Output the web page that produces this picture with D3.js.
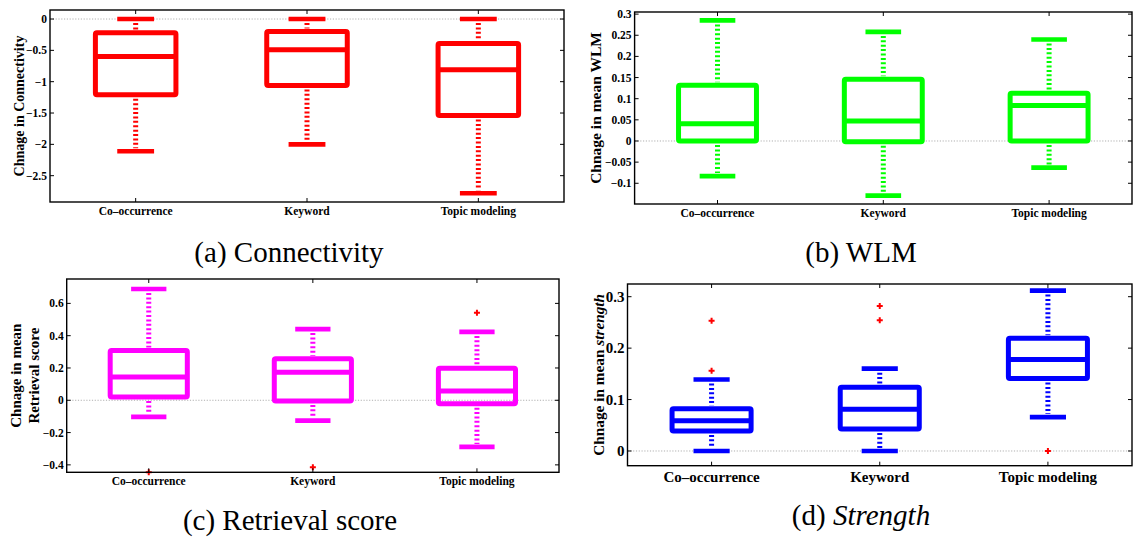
<!DOCTYPE html>
<html><head><meta charset="utf-8">
<script src="https://cdn.jsdelivr.net/npm/d3@7"></script>
<style>
html,body{margin:0;padding:0;background:#fff;}
text{font-family:"Liberation Serif","Times New Roman",serif;}
</style>
</head><body>
<svg id="chart" width="1133" height="538"></svg>
<script>
// ---------- data ----------
const categories = ["Co\u2013occurrence", "Keyword", "Topic modeling"];
// box stats per category: [lower whisker, Q1, median, Q3, upper whisker]
const connectivityStats = [[-2.11, -1.21, -0.60, -0.22, 0], [-2.00, -1.06, -0.49, -0.20, 0], [-2.78, -1.54, -0.81, -0.39, 0]];
const connectivityOutliers = [[], [], []];
const connectivityTicks = [0, -0.5, -1, -1.5, -2, -2.5];

const wlmStats = [[-0.083, 0.0, 0.041, 0.132, 0.285], [-0.129, -0.002, 0.047, 0.146, 0.258], [-0.063, 0.0, 0.084, 0.113, 0.240]];
const wlmOutliers = [[], [], []];
const wlmTicks = [0.3, 0.25, 0.2, 0.15, 0.1, 0.05, 0, -0.05, -0.1];

const retrievalStats = [[-0.103, 0.02, 0.144, 0.309, 0.689], [-0.126, -0.004, 0.173, 0.257, 0.441], [-0.289, -0.021, 0.058, 0.198, 0.423]];
const retrievalOutliers = [[-0.445], [-0.415], [0.542]];
const retrievalTicks = [0.6, 0.4, 0.2, 0, -0.2, -0.4];

const strengthStats = [[0, 0.039, 0.059, 0.082, 0.139], [0, 0.043, 0.081, 0.124, 0.160], [0.066, 0.141, 0.178, 0.219, 0.312]];
const strengthOutliers = [[0.156, 0.253], [0.254, 0.282], [0]];
const strengthTicks = [0, 0.1, 0.2, 0.3];

// ---------- layout ----------
const svg = d3.select("#chart");
svg.append("rect").attr("width", 1133).attr("height", 538).attr("fill", "#fff");

const panels = [
  {x0: 50, x1: 564, y0: 10, y1: 202, dom: [-2.92, 0.144], stats: connectivityStats, out: connectivityOutliers, ticks: connectivityTicks,
   color: "#ff0000", fs: 11.5, xlabY: 215, ylab: [["Chnage in Connectivity"]], ylabX: 19, ylabFs: 14,
   caption: ["(a) Connectivity", ""], capX: 289, capY: 262},
  {x0: 634.6, x1: 1132, y0: 12, y1: 204, dom: [-0.149, 0.305], stats: wlmStats, out: wlmOutliers, ticks: wlmTicks,
   color: "#00ff00", fs: 11.5, xlabY: 217, ylab: [["Chnage in mean WLM"]], ylabX: 596, ylabFs: 15.5,
   caption: ["(b) WLM", ""], capX: 861, capY: 262},
  {x0: 66.7, x1: 559, y0: 279, y1: 472.3, dom: [-0.446, 0.751], stats: retrievalStats, out: retrievalOutliers, ticks: retrievalTicks,
   color: "#ff00ff", fs: 11.5, xlabY: 485, ylab: [["Chnage in mean"], ["Retrieval score"]], ylabX: 25, ylabFs: 15,
   caption: ["(c) Retrieval score", ""], capX: 290, capY: 530},
  {x0: 627.5, x1: 1132, y0: 284, y1: 465.7, dom: [-0.0286, 0.3247], stats: strengthStats, out: strengthOutliers, ticks: strengthTicks,
   color: "#0000ff", fs: 15, xlabY: 482, ylab: [["Chnage in mean ", "strength"]], ylabX: 599, ylabFs: 15.3,
   caption: ["(d) ", "Strength"], capX: 861, capY: 525}
];

panels.forEach(p => {
  const g = svg.append("g");
  const x = d3.scaleBand().domain(categories).range([p.x0, p.x1]).padding(0);
  const y = d3.scaleLinear().domain(p.dom).range([p.y1, p.y0]);
  const bw = x.bandwidth();
  const boxW = bw * 0.47, capW = bw * 0.215;

  // zero reference line
  g.append("line").attr("x1", p.x0).attr("x2", p.x1).attr("y1", y(0)).attr("y2", y(0))
    .attr("stroke", "#b0b0b0").attr("stroke-width", 1).attr("stroke-dasharray", "1.2,1.6");

  categories.forEach((c, i) => {
    const [lo, q1, med, q3, hi] = p.stats[i];
    const cx = x(c) + bw / 2;
    // whiskers
    g.append("line").attr("x1", cx).attr("x2", cx).attr("y1", y(hi) + 4).attr("y2", y(q3) - 3)
      .attr("stroke", p.color).attr("stroke-width", 5).attr("stroke-dasharray", "2,2.4");
    g.append("line").attr("x1", cx).attr("x2", cx).attr("y1", y(q1) + 4).attr("y2", y(lo) - 3)
      .attr("stroke", p.color).attr("stroke-width", 5).attr("stroke-dasharray", "2,2.4");
    // caps
    [lo, hi].forEach(v => g.append("line").attr("x1", cx - capW / 2).attr("x2", cx + capW / 2)
      .attr("y1", y(v)).attr("y2", y(v)).attr("stroke", p.color).attr("stroke-width", 4.7));
    // box
    g.append("rect").attr("x", cx - boxW / 2).attr("width", boxW).attr("y", y(q3)).attr("height", y(q1) - y(q3))
      .attr("fill", "none").attr("stroke", p.color).attr("stroke-width", 5).attr("stroke-linejoin", "round").attr("rx", 1.5);
    g.append("line").attr("x1", cx - boxW / 2).attr("x2", cx + boxW / 2).attr("y1", y(med)).attr("y2", y(med))
      .attr("stroke", p.color).attr("stroke-width", 5);
    // outliers
    p.out[i].forEach(v => g.append("path").attr("d", d3.symbol(d3.symbolCross, 20)())
      .attr("transform", `translate(${cx},${y(v)})`).attr("fill", "#ff0000"));
  });

  // frame
  const axisCol = "#000";
  g.append("rect").attr("x", p.x0).attr("y", p.y0).attr("width", p.x1 - p.x0).attr("height", p.y1 - p.y0)
    .attr("fill", "none").attr("stroke", axisCol).attr("stroke-width", 1.4);
  // y ticks (inward, both sides)
  const fmt = v => (v < 0 ? "\u2212" : "") + d3.format("~g")(Math.abs(v));
  p.ticks.forEach(t => {
    g.append("line").attr("x1", p.x0).attr("x2", p.x0 + 4).attr("y1", y(t)).attr("y2", y(t)).attr("stroke", axisCol).attr("stroke-width", 1);
    g.append("line").attr("x1", p.x1).attr("x2", p.x1 - 4).attr("y1", y(t)).attr("y2", y(t)).attr("stroke", axisCol).attr("stroke-width", 1);
    g.append("text").attr("x", p.x0 - 3).attr("y", y(t)).attr("dy", "0.35em").attr("text-anchor", "end")
      .attr("font-size", p.fs).attr("font-weight", "bold").text(fmt(t));
  });
  // x ticks
  categories.forEach(c => {
    const cx = x(c) + bw / 2;
    g.append("line").attr("x1", cx).attr("x2", cx).attr("y1", p.y1).attr("y2", p.y1 - 4).attr("stroke", axisCol).attr("stroke-width", 1);
    g.append("line").attr("x1", cx).attr("x2", cx).attr("y1", p.y0).attr("y2", p.y0 + 4).attr("stroke", axisCol).attr("stroke-width", 1);
    g.append("text").attr("x", cx).attr("y", p.xlabY).attr("text-anchor", "middle")
      .attr("font-size", p.fs).attr("font-weight", "bold").text(c);
  });
  // y label
  const cy = (p.y0 + p.y1) / 2;
  const nl = p.ylab.length;
  p.ylab.forEach((parts, li) => {
    const t = g.append("text").attr("transform", `translate(${p.ylabX + (li - (nl - 1) / 2) * p.ylabFs * 1.2},${cy}) rotate(-90)`)
      .attr("text-anchor", "middle").attr("dy", "0.35em").attr("font-size", p.ylabFs).attr("font-weight", "bold");
    parts.forEach((s, k) => t.append("tspan").attr("font-style", k === 1 ? "italic" : "normal").text(s));
  });
  // caption
  const ct = svg.append("text").attr("x", p.capX).attr("y", p.capY).attr("text-anchor", "middle").attr("font-size", 29);
  p.caption.forEach((s, k) => { if (s) ct.append("tspan").attr("font-style", k === 1 ? "italic" : "normal").text(s); });
});
</script>
</body></html>
